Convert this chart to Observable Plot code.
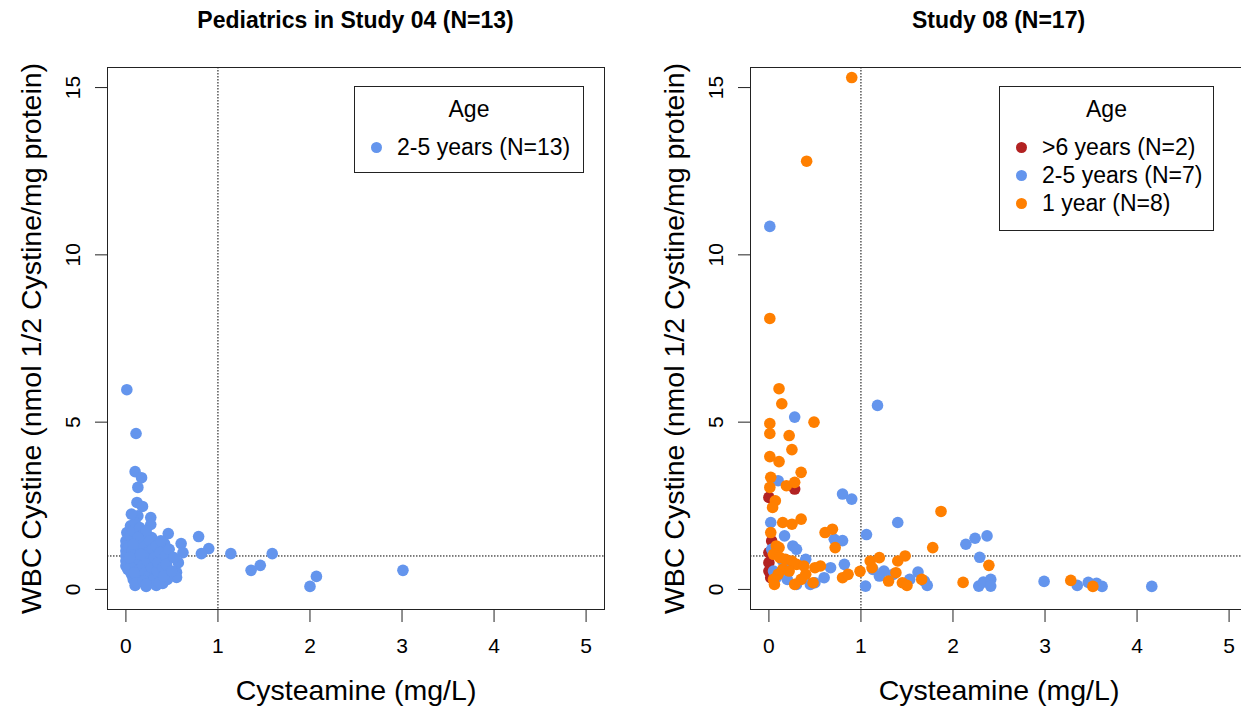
<!DOCTYPE html>
<html>
<head>
<meta charset="utf-8">
<script src="https://cdn.jsdelivr.net/npm/d3@7"></script>
<script src="https://cdn.jsdelivr.net/npm/@observablehq/plot@0.6"></script>
<style>
  body { margin: 0; background: #fff; overflow: hidden; font-family: "Liberation Sans", Arial, sans-serif; }
  #page { position: relative; width: 1241px; height: 709px; overflow: hidden; }
  .panel { position: absolute; top: 0; width: 620px; height: 709px; }
  .title { position: absolute; top: 0; left: 107px; width: 497px; text-align: center; font-weight: bold; font-size: 23px; line-height: 40px; }
  .chart { position: absolute; top: 40px; left: 0; }
  .legend { position: absolute; top: 86px; border: 1px solid #222; background: #fff; font-size: 23px; box-sizing: border-box; }
  .legend .head { position: absolute; top: 8px; left: 0; width: 100%; text-align: center; line-height: 28px; }
  .legend .row { position: absolute; left: 0; height: 28px; line-height: 28px; white-space: nowrap; }
  .legend .dot { position: absolute; left: 16px; top: 9px; width: 11px; height: 11px; border-radius: 50%; }
  .legend .lab { position: absolute; left: 42px; top: 0; }
</style>
</head>
<body>
<div id="page">
  <div class="panel" id="p1" style="left:0"></div>
  <div class="panel" id="p2" style="left:643px"></div>
</div>
<script>
const xTicks = [0, 1, 2, 3, 4, 5]
const yTicks = [0, 5, 10, 15]
const xLabel = 'Cysteamine (mg/L)'
const yLabel = 'WBC Cystine (nmol 1/2 Cystine/mg protein)'
const titles = ['Pediatrics in Study 04 (N=13)', 'Study 08 (N=17)']
const ageGroups = ['>6 years', '2-5 years', '1 year']
const ageColors = ['#b22222', '#6495ed', '#ff7f00']

// Study 04, all 2-5 years
const s04x = [0.01, 0.11, 0.10, 0.17, 0.13, 0.12, 0.18, 0.13, 0.27, 0.27, 0.01, 0.46, 0.79, 0.28, 0.60, 0.42, 0.90, 0.82, 1.14, 1.59,
  1.46, 1.36, 0.62, 0.57, 0.55, 0.55, 2.00, 2.07, 3.01, 0.10, 0.22, 0.33, 0.40, 0.45,
  0.00, 0.00, 0.00, 0.00, 0.00, 0.00, 0.02, 0.03, 0.05, 0.05, 0.06, 0.08, 0.08, 0.09, 0.10, 0.10, 0.12, 0.12, 0.14, 0.14,
  0.15, 0.16, 0.17, 0.18, 0.19, 0.20, 0.20, 0.21, 0.22, 0.23, 0.24, 0.25, 0.26, 0.28, 0.29, 0.30, 0.31, 0.33, 0.34, 0.35,
  0.36, 0.37, 0.38, 0.40, 0.41, 0.43, 0.44, 0.47, 0.50, 0.52, 0.07, 0.04, 0.09, 0.11, 0.13, 0.16, 0.19, 0.06, 0.08, 0.22]
const s04y = [5.97, 4.66, 3.52, 3.34, 3.05, 2.60, 2.48, 2.20, 2.15, 1.94, 1.70, 1.67, 1.58, 1.55, 1.37, 1.37, 1.22, 1.07, 1.07, 1.07,
  0.72, 0.57, 1.10, 0.80, 0.51, 0.36, 0.09, 0.39, 0.57, 0.12, 0.09, 0.12, 0.18, 0.30,
  1.45, 1.30, 1.15, 1.00, 0.85, 0.70, 0.60, 1.25, 1.60, 1.90, 0.45, 0.30, 1.75, 1.05, 0.75, 2.00, 1.40, 0.55, 1.20, 0.90,
  1.85, 0.35, 1.60, 0.70, 1.00, 0.20, 1.30, 0.50, 1.75, 0.85, 1.10, 0.40, 1.45, 0.65, 1.20, 0.30, 0.95, 1.30, 0.55, 0.80,
  0.20, 1.10, 1.45, 0.65, 0.40, 1.00, 0.75, 1.20, 0.55, 0.95, 1.15, 0.95, 0.50, 0.20, 1.55, 1.05, 0.25, 2.25, 1.35, 0.15]

// Study 08, >6 years
const s08RedX = [0.00, 0.28, 0.00, 0.00, 0.02, 0.00, 0.03]
const s08RedY = [2.75, 3.00, 1.10, 0.80, 0.35, 0.55, 1.45]

// Study 08, 2-5 years
const s08BlueX = [0.01, 0.28, 1.18, 0.10, 0.80, 0.90, 1.40, 0.02, 0.17, 0.26, 0.30, 0.71, 0.80, 1.06, 2.14, 2.24, 2.37, 2.29, 0.40, 0.03,
  0.05, 0.20, 0.30, 0.45, 0.67, 0.82, 1.13, 1.25, 1.62, 1.69, 1.72, 1.20, 1.05, 1.35, 1.53, 2.28, 2.33, 2.41, 2.41, 2.99,
  3.35, 3.47, 3.56, 3.62, 4.16, 0.50, 0.60, 0.15, 0.08, 0.22]
const s08BlueY = [10.85, 5.15, 5.50, 3.25, 2.85, 2.70, 2.00, 2.00, 1.60, 1.30, 1.20, 1.50, 1.46, 1.64, 1.35, 1.53, 1.60, 0.96, 0.90, 1.20,
  0.55, 0.30, 0.15, 0.15, 0.65, 0.75, 0.60, 0.55, 0.52, 0.25, 0.12, 0.40, 0.10, 0.45, 0.30, 0.10, 0.22, 0.30, 0.10, 0.24,
  0.12, 0.21, 0.18, 0.09, 0.09, 0.20, 0.35, 0.85, 0.35, 0.70]

// Study 08, 1 year
const s08OrangeX = [0.90, 0.41, 0.01, 0.11, 0.14, 0.49, 0.01, 0.01, 0.22, 0.25, 0.01, 0.11, 0.35, 0.02, 0.01, 0.19, 0.28, 0.07, 0.04, 0.35,
  0.25, 0.15, 0.02, 0.61, 0.69, 0.72, 0.08, 0.11, 1.87, 1.78, 0.05, 0.12, 0.18, 0.25, 0.30, 0.38, 0.15, 0.22, 0.10, 0.05,
  0.06, 0.48, 0.50, 0.56, 0.35, 1.10, 1.20, 1.40, 1.48, 1.12, 1.38, 1.30, 1.45, 1.50, 0.80, 0.86, 0.99, 1.66, 2.11, 2.39,
  3.28, 3.52, 0.40, 0.28]
const s08OrangeY = [15.3, 12.8, 8.10, 6.00, 5.55, 5.00, 4.96, 4.66, 4.60, 4.18, 3.97, 3.82, 3.50, 3.35, 3.05, 3.10, 3.20, 2.65, 2.45, 2.10,
  1.95, 2.00, 1.70, 1.70, 1.80, 1.25, 1.30, 1.25, 2.33, 1.25, 1.05, 0.95, 0.90, 0.85, 0.75, 0.70, 0.60, 0.55, 0.45, 0.30,
  0.15, 0.20, 0.65, 0.70, 0.30, 0.85, 0.95, 0.85, 1.00, 0.65, 0.50, 0.25, 0.20, 0.12, 0.35, 0.45, 0.54, 0.30, 0.21, 0.72,
  0.27, 0.09, 0.45, 0.15]

const panels = [
  {title: titles[0], series: [{x: s04x, y: s04y, color: ageColors[1]}],
   legend: [{label: '2-5 years (N=13)', color: ageColors[1]}], legendLeft: 354, legendWidth: 230, legendHeight: 87},
  {title: titles[1], series: [
     {x: s08RedX, y: s08RedY, color: ageColors[0]},
     {x: s08BlueX, y: s08BlueY, color: ageColors[1]},
     {x: s08OrangeX, y: s08OrangeY, color: ageColors[2]}],
   legend: [
     {label: ageGroups[0] + ' (N=2)', color: ageColors[0]},
     {label: ageGroups[1] + ' (N=7)', color: ageColors[1]},
     {label: ageGroups[2] + ' (N=8)', color: ageColors[2]}], legendLeft: 356, legendWidth: 215, legendHeight: 145}
]

function makeChart(p) {
  return Plot.plot({
    width: 620,
    height: 669,
    marginLeft: 107,
    marginRight: 16,
    marginTop: 27,
    marginBottom: 100,
    style: {fontFamily: '"Liberation Sans", Arial, sans-serif', fontSize: '21px', background: 'white', color: 'black', overflow: 'visible'},
    x: {domain: [-0.2, 5.2]},
    y: {domain: [-0.6, 15.6]},
    marks: [
      Plot.ruleX([1], {stroke: 'black', strokeDasharray: '1.5,1.5'}),
      Plot.ruleY([1], {stroke: 'black', strokeDasharray: '1.5,1.5'}),
      ...p.series.map(s => Plot.dot(d3.zip(s.x, s.y), {x: d => d[0], y: d => d[1], r: 5.8, fill: s.color})),
      Plot.frame({stroke: '#222'}),
      Plot.axisX(xTicks, {tickSize: 13, tickPadding: 16, fontSize: 21, label: null, stroke: '#222'}),
      Plot.axisY(yTicks, {tickSize: 12, tickPadding: 16, tickRotate: -90, textAnchor: 'middle', fontSize: 21, label: null, stroke: '#222'}),
      Plot.text([xLabel], {frameAnchor: 'bottom', textAnchor: 'middle', lineAnchor: 'middle', dy: 81, fontSize: 28.5}),
      Plot.text([yLabel], {frameAnchor: 'left', textAnchor: 'middle', lineAnchor: 'middle', dx: -76, rotate: -90, fontSize: 28.5})
    ]
  })
}

panels.forEach((p, i) => {
  const div = d3.select('#p' + (i + 1))
  div.append('div').attr('class', 'title').text(p.title)
  div.append('div').attr('class', 'chart').append(() => makeChart(p))

  const lg = div.append('div').attr('class', 'legend')
    .style('left', p.legendLeft + 'px')
    .style('width', p.legendWidth + 'px')
    .style('height', p.legendHeight + 'px')
  lg.append('div').attr('class', 'head').text('Age')
  p.legend.forEach((l, j) => {
    const row = lg.append('div').attr('class', 'row').style('top', (46 + j * 28) + 'px')
    row.append('span').attr('class', 'dot').style('background', l.color)
    row.append('span').attr('class', 'lab').text(l.label)
  })
})
</script>
</body>
</html>
